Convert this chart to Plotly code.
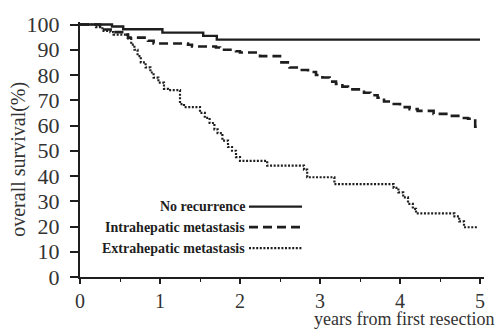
import plotly.graph_objects as go

# ---- data ----
no_rec_x = [0, 0.40, 0.54, 1.03, 1.54, 1.71, 5.0]
no_rec_y = [100, 99.2, 98.1, 96.8, 95.5, 94.0, 94.0]

intra_x = [0, 0.25, 0.40, 0.55, 0.60, 0.85, 0.92, 1.35, 1.40, 1.70, 1.75, 1.95, 2.00,
           2.25, 2.50, 2.62, 2.75, 2.85, 2.95, 3.03, 3.12, 3.20, 3.28, 3.35, 3.55,
           3.63, 3.72, 3.80, 3.90, 4.00, 4.12, 4.22, 4.42, 4.62, 4.78, 4.85, 4.94, 5.0]
intra_y = [100, 98.0, 97.0, 96.0, 94.8, 93.6, 92.5, 92.0, 91.3, 90.9, 90.0, 89.4, 88.9,
           87.5, 85.0, 83.0, 82.0, 81.2, 80.0, 79.0, 77.4, 76.5, 75.4, 74.3, 73.0,
           72.0, 71.0, 69.5, 68.5, 67.3, 66.5, 65.8, 64.6, 63.8, 63.0, 62.7, 59.5, 59.5]

extra_x = [0, 0.20, 0.28, 0.38, 0.42, 0.60, 0.64, 0.68, 0.72, 0.76, 0.82, 0.88, 0.92,
           0.98, 1.05, 1.10, 1.25, 1.30, 1.50, 1.56, 1.62, 1.68, 1.72, 1.78, 1.85,
           1.90, 1.95, 2.00, 2.34, 2.80, 2.84, 3.18, 3.92, 3.98, 4.04, 4.10, 4.16,
           4.20, 4.68, 4.74, 4.80, 4.97]
extra_y = [100, 99.0, 97.5, 97.0, 96.0, 94.5, 92.0, 90.0, 87.5, 85.0, 83.0, 81.0, 79.0,
           77.0, 74.5, 74.0, 68.5, 67.3, 65.0, 63.0, 61.0, 58.5, 57.0, 54.0, 51.5,
           50.0, 47.5, 46.0, 44.1, 42.5, 39.5, 36.8, 35.3, 33.5, 31.5, 29.0, 27.0,
           25.2, 24.0, 22.0, 19.7, 19.7]

series_names = ["No recurrence", "Intrahepatic metastasis", "Extrahepatic metastasis"]
y_ticks = list(range(0, 101, 10))
x_ticks = [0, 1, 2, 3, 4, 5]

INK = "#1e1e1e"
SERIF = "Liberation Serif, Times New Roman, serif"
styles = [dict(dash="solid", width=2.4),
          dict(dash="9px,5px", width=2.6),
          dict(dash="2px,1.6px", width=2.2)]

fig = go.Figure()
for (xs, ys), st in zip([(no_rec_x, no_rec_y), (intra_x, intra_y), (extra_x, extra_y)], styles):
    fig.add_trace(go.Scatter(x=xs, y=ys, mode="lines", line_shape="hv",
                             line=dict(color=INK, **st), showlegend=False,
                             hoverinfo="skip"))

# plot area geometry (pixels)
L, R, T, B = 80, 20, 16, 53
W, H = 504 - L - R, 330 - T - B

def px_x(p):
    return (p - L) / W

def px_y(p):
    return (330 - B - p) / H

# legend: text on the left, line sample on the right
leg_rows = [205, 226, 247.5]
for name, row, st in zip(series_names, leg_rows, styles):
    fig.add_annotation(text="<b>%s</b>" % name, xref="paper", yref="paper",
                       x=px_x(247), y=px_y(row), xanchor="right", yanchor="middle",
                       showarrow=False, font=dict(family=SERIF, size=14, color=INK))
    fig.add_shape(type="line", xref="paper", yref="paper",
                  x0=px_x(249), x1=px_x(302), y0=px_y(row), y1=px_y(row),
                  line=dict(color=INK, **st))

# axis titles
fig.add_annotation(text="years from first resection", xref="paper", yref="paper",
                   x=px_x(495), y=px_y(331), xanchor="right", yanchor="bottom",
                   showarrow=False, borderpad=0,
                   font=dict(family=SERIF, size=18, color="#333"))
fig.add_annotation(text="overall survival(%)", xref="paper", yref="paper",
                   x=px_x(19), y=px_y(157), textangle=-90, showarrow=False,
                   xanchor="center", yanchor="middle",
                   font=dict(family=SERIF, size=20, color="#333"))

fig.update_layout(
    width=504, height=330,
    margin=dict(l=L, r=R, t=T, b=B),
    paper_bgcolor="white", plot_bgcolor="white",
    xaxis=dict(range=[0, 5.05], tickvals=x_ticks, ticks="outside", ticklen=5,
               tickwidth=1.6, tickcolor=INK, showline=True, linecolor=INK,
               linewidth=2, showgrid=False, zeroline=False,
               tickfont=dict(family=SERIF, size=20, color="#333"),
               minor=dict(dtick=0.5, ticks="outside", ticklen=3, tickwidth=1.4,
                          tickcolor=INK, showgrid=False)),
    yaxis=dict(range=[0, 101], tickvals=y_ticks, ticks="outside", ticklen=8,
               tickwidth=1.6, tickcolor=INK, showline=True, linecolor=INK,
               linewidth=2, showgrid=False, zeroline=False, ticklabelstandoff=6,
               tickfont=dict(family=SERIF, size=22, color="#333")),
)

fig.write_html("out.html")
